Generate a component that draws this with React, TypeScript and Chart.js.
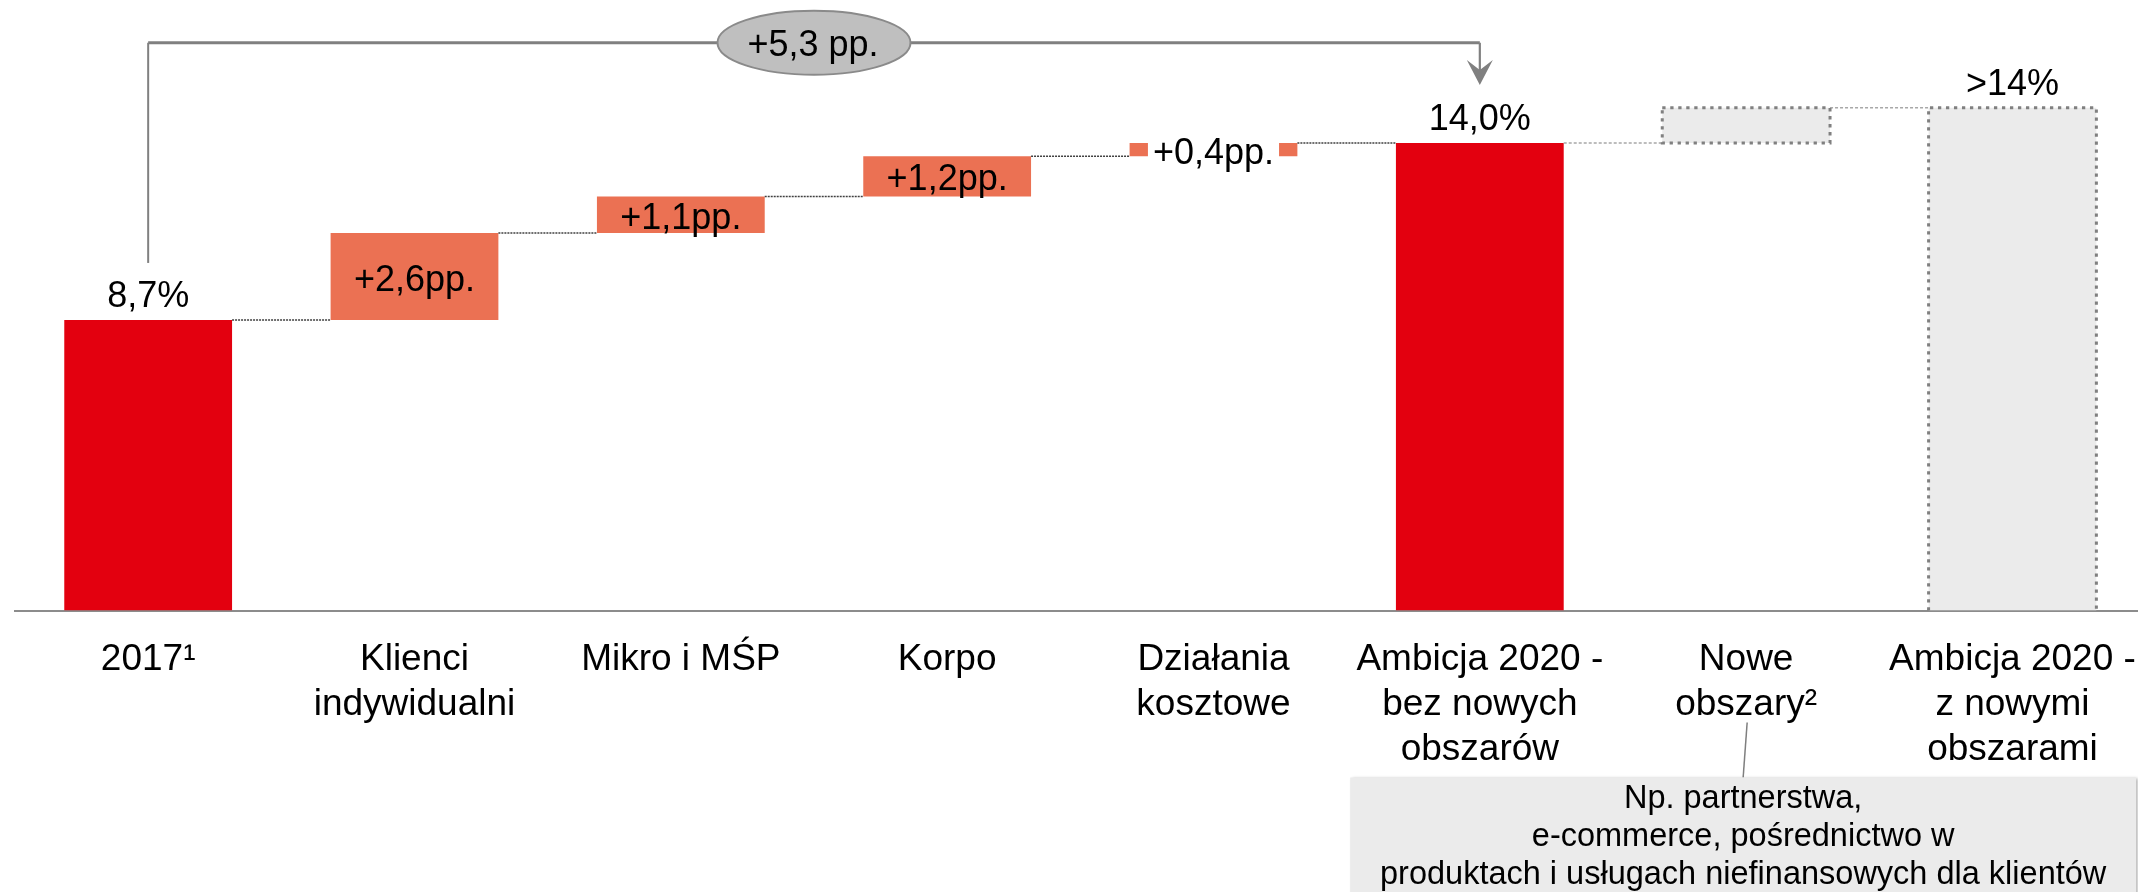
import React, { useEffect, useRef } from "react";
import { Chart, registerables } from "chart.js";

Chart.register(...registerables);

// ---- data ----
const categories: string[][] = [
  ["2017¹"],
  ["Klienci", "indywidualni"],
  ["Mikro i MŚP"],
  ["Korpo"],
  ["Działania", "kosztowe"],
  ["Ambicja 2020 -", "bez nowych", "obszarów"],
  ["Nowe", "obszary²"],
  ["Ambicja 2020 -", "z nowymi", "obszarami"],
];
const barStarts = [0, 8.7, 11.3, 12.4, 13.6, 0, 14.0, 0];
const barEnds = [8.7, 11.3, 12.4, 13.6, 14.0, 14.0, 15.05, 15.05];
const barKinds = ["total", "step", "step", "step", "step", "total", "future", "future"];
const valueLabels = ["8,7%", "+2,6pp.", "+1,1pp.", "+1,2pp.", "+0,4pp.", "14,0%", "", ">14%"];
const bracketFrom = 0;
const bracketTo = 5;
const bracketLevel = 17.0;
const bracketLabel = "+5,3 pp.";
const noteCategory = 6;
const noteLines = [
  "Np. partnerstwa,",
  "e-commerce, pośrednictwo w",
  "produktach i usługach niefinansowych dla klientów",
];
const yMin = 0;
const yMax = 18.28;

const COLORS: Record<string, string> = {
  total: "#e3000f",
  step: "#eb7153",
  future: "#ebebeb",
};

const FONT = "'Liberation Sans', Arial, sans-serif";

function centerText(ctx: CanvasRenderingContext2D, text: string, x: number, y: number, font: string) {
  ctx.save();
  ctx.font = font;
  ctx.textAlign = "center";
  ctx.textBaseline = "alphabetic";
  ctx.fillText(text, x, y);
  ctx.restore();
}

const overlayPlugin = {
  id: "overlay",
  afterDatasetsDraw(chart: any) {
    const ctx: CanvasRenderingContext2D = chart.ctx;
    const ys = chart.scales.y;
    const meta = chart.getDatasetMeta(0);
    const bars = meta.data.map((el: any) => el.getProps(["x", "y", "base", "width"], true));
    const area = chart.chartArea;

    // connectors
    for (let i = 0; i < bars.length - 1; i++) {
      const a = bars[i];
      const b = bars[i + 1];
      const y = ys.getPixelForValue(barEnds[i]);
      const light = barKinds[i + 1] === "future";
      ctx.save();
      ctx.strokeStyle = light ? "#a8a8a8" : "#404040";
      ctx.lineWidth = 1.5;
      ctx.setLineDash(light ? [3, 2] : [2, 1]);
      ctx.beginPath();
      ctx.moveTo(a.x + a.width / 2, y);
      ctx.lineTo(b.x - b.width / 2, y);
      ctx.stroke();
      ctx.restore();
    }

    // dashed borders of future bars
    bars.forEach((b: any, i: number) => {
      if (barKinds[i] !== "future") return;
      const l = b.x - b.width / 2;
      const r = b.x + b.width / 2;
      const top = Math.min(b.y, b.base);
      const bot = Math.max(b.y, b.base);
      ctx.save();
      ctx.strokeStyle = "#808080";
      ctx.lineWidth = 3;
      ctx.setLineDash([3.3, 4.7]);
      ctx.beginPath();
      if (barStarts[i] === 0) {
        ctx.moveTo(l, bot);
        ctx.lineTo(l, top);
        ctx.lineTo(r, top);
        ctx.lineTo(r, bot);
      } else {
        ctx.rect(l, top, r - l, bot - top);
      }
      ctx.stroke();
      ctx.restore();
    });

    // value labels
    bars.forEach((b: any, i: number) => {
      const txt = valueLabels[i];
      if (!txt) return;
      ctx.save();
      ctx.fillStyle = "#000";
      const font = `36px ${FONT}`;
      if (barKinds[i] === "step") {
        const mid = (b.y + b.base) / 2;
        const top = Math.min(b.y, b.base);
        const h = Math.abs(b.base - b.y);
        ctx.font = font;
        const w = ctx.measureText(txt).width;
        if (h < 30) {
          ctx.fillStyle = "#ffffff";
          ctx.fillRect(b.x - w / 2 - 5, top - 1, w + 10, h + 2);
          ctx.fillStyle = "#000";
        }
        centerText(ctx, txt, b.x, mid + 14, font);
      } else {
        centerText(ctx, txt, b.x, b.y - 13, font);
      }
      ctx.restore();
    });

    // bracket with arrow
    const a0 = bars[bracketFrom];
    const a1 = bars[bracketTo];
    const yb = ys.getPixelForValue(bracketLevel);
    ctx.save();
    ctx.strokeStyle = "#808080";
    ctx.lineWidth = 2;
    ctx.beginPath();
    ctx.moveTo(a0.x, a0.y - 57);
    ctx.lineTo(a0.x, yb);
    ctx.stroke();
    ctx.lineWidth = 3;
    ctx.beginPath();
    ctx.moveTo(a0.x, yb);
    ctx.lineTo(a1.x, yb);
    ctx.stroke();
    const tipY = a1.y - 58;
    ctx.lineWidth = 2.2;
    ctx.beginPath();
    ctx.moveTo(a1.x, yb);
    ctx.lineTo(a1.x, tipY - 12);
    ctx.stroke();
    ctx.fillStyle = "#808080";
    ctx.beginPath();
    ctx.moveTo(a1.x, tipY);
    ctx.lineTo(a1.x - 13, tipY - 25);
    ctx.lineTo(a1.x, tipY - 15);
    ctx.lineTo(a1.x + 13, tipY - 25);
    ctx.closePath();
    ctx.fill();

    // ellipse label
    const ex = (a0.x + a1.x) / 2;
    ctx.beginPath();
    ctx.ellipse(ex, yb, 96.5, 32, 0, 0, Math.PI * 2);
    ctx.fillStyle = "#bfbfbf";
    ctx.fill();
    ctx.lineWidth = 2;
    ctx.strokeStyle = "#8a8a8a";
    ctx.stroke();
    ctx.fillStyle = "#000";
    centerText(ctx, bracketLabel, ex - 1, yb + 13, `36px ${FONT}`);
    ctx.restore();

    // note box
    const nb = bars[noteCategory];
    const boxTop = area.bottom + 167;
    const boxL = nb.x - 396;
    const boxR = nb.x + 390;
    ctx.save();
    ctx.strokeStyle = "#7f7f7f";
    ctx.lineWidth = 1.5;
    ctx.beginPath();
    ctx.moveTo(nb.x + 1, area.bottom + 112);
    ctx.lineTo(nb.x - 3, boxTop);
    ctx.stroke();
    ctx.shadowColor = "rgba(0,0,0,0.35)";
    ctx.shadowBlur = 3;
    ctx.shadowOffsetX = 1.5;
    ctx.shadowOffsetY = 0;
    ctx.fillStyle = "#ebebeb";
    ctx.fillRect(boxL, boxTop, boxR - boxL, chart.height - boxTop + 10);
    ctx.shadowColor = "transparent";
    ctx.fillStyle = "#000";
    const cx = (boxL + boxR) / 2;
    noteLines.forEach((line, k) => {
      centerText(ctx, line, cx, boxTop + 30 + k * 38, `32.5px ${FONT}`);
    });
    ctx.restore();
  },
};

export default function App() {
  const ref = useRef<HTMLCanvasElement | null>(null);
  useEffect(() => {
    if (!ref.current) return;
    const chart = new Chart(ref.current, {
      type: "bar",
      data: {
        labels: categories,
        datasets: [
          {
            data: barStarts.map((s, i) => [s, barEnds[i]]) as any,
            backgroundColor: barKinds.map((k) => COLORS[k]),
            borderWidth: 0,
            barPercentage: 0.63,
            categoryPercentage: 1,
          },
        ],
      },
      options: {
        responsive: false,
        animation: false,
        devicePixelRatio: 1,
        layout: { padding: { left: 15, right: 18, top: 0, bottom: 0 } },
        plugins: {
          legend: { display: false },
          tooltip: { enabled: false },
        },
        scales: {
          x: {
            type: "category",
            offset: true,
            grid: { display: false, drawTicks: false },
            border: { display: true, color: "#8c8c8c", width: 2 },
            ticks: {
              color: "#000",
              font: { family: FONT, size: 37, lineHeight: 1.216 },
              padding: 27,
              maxRotation: 0,
              minRotation: 0,
              autoSkip: false,
            },
            afterFit: (s: any) => {
              s.height = 281.5;
            },
          },
          y: { display: false, min: yMin, max: yMax },
        },
      },
      plugins: [overlayPlugin],
    } as any);
    return () => chart.destroy();
  }, []);
  return (
    <div
      style={{
        position: "fixed",
        left: 0,
        top: 0,
        width: 2138,
        height: 892,
        overflow: "hidden",
        background: "#fff",
      }}
    >
      <canvas ref={ref} width={2164} height={892} style={{ width: 2164, height: 892, display: "block" }} />
    </div>
  );
}
